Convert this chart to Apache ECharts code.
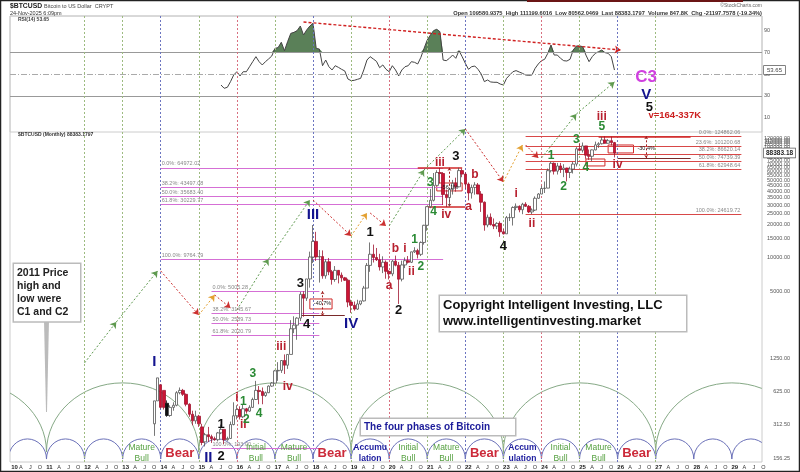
<!DOCTYPE html>
<html>
<head>
<meta charset="utf-8">
<style>html,body{margin:0;padding:0;background:#fff}#chart{width:800px;height:472px}</style>
<script src="https://cdn.jsdelivr.net/npm/echarts@6/dist/echarts.min.js"></script>
</head>
<body>
<div id="chart"></div>
<script>
// 月份轴 2010-02 .. 2029-10
let months = [];
for (let i = 0; i < 237; i++) {
    let n = 2010 * 12 + 1 + i;
    months.push(Math.floor(n / 12) + "-" + String(n % 12 + 1).padStart(2, "0"));
}

// 蜡烛图，从 2013-11 这一格开始
let candleStart = "2013-11";
let priceOpen = [
    320, 515, 720,
    640, 490, 380, 450, 470, 610, 640, 590, 480, 390, 340, 375,
    300, 220, 255, 245, 235, 230, 265, 285, 230, 236, 315, 378,
    430, 370, 437, 416, 450, 530, 640, 625, 575, 610, 700, 745,
    960, 970, 1190, 1080, 1350, 2300, 2480, 2870, 4700, 4340, 6470, 10200,
    14100, 10200, 10300, 6900, 9240, 7500, 6400, 7730, 7000, 6620, 6300, 4000,
    3740, 3460, 3850, 4100, 5350, 8570, 10800, 10100, 9630, 8300, 9150, 7570,
    7190, 9350, 8600, 6440, 8650, 9450, 9140, 11350, 11650, 10780, 13800, 19700,
    29000, 33100, 45100, 58900, 57700, 37300, 35000, 41500, 47100, 43800, 61300, 57000,
    46300, 38500, 43200, 45500, 37700, 31800, 19800, 23300, 20000, 19400, 20500, 17200,
    16500, 23100, 23100, 28500, 29200, 27200, 30500, 29200, 26000, 27000, 34500, 37700,
    42300, 42600, 61200, 71300, 60600, 67500, 62700, 64600, 59000, 63300, 70200, 96400,
    93400, 102400, 84400, 82500, 94200, 104600, 107100, 115700, 108200, 114000, 109580
];
let priceClose = [
    515, 830, 450,
    450, 380, 450, 470, 610, 640, 590, 480, 390, 340, 375, 320,
    217, 255, 245, 235, 230, 265, 285, 230, 236, 315, 378, 430,
    370, 437, 416, 450, 530, 640, 625, 575, 610, 700, 745, 960,
    970, 1190, 1080, 1350, 2300, 2480, 2870, 4700, 4340, 6470, 10200, 14100,
    10200, 10300, 6900, 9240, 7500, 6400, 7730, 7000, 6620, 6300, 4000, 3740,
    3460, 3850, 4100, 5350, 8570, 10800, 10100, 9630, 8300, 9150, 7570, 7190,
    9350, 8600, 6440, 8650, 9450, 9140, 11350, 11650, 10780, 13800, 19700, 29000,
    33100, 45100, 58900, 57700, 37300, 35000, 41500, 47100, 43800, 61300, 57000, 46300,
    38500, 43200, 45500, 37700, 31800, 19800, 23300, 20000, 19400, 20500, 17200, 16500,
    23100, 23100, 28500, 29200, 27200, 30500, 29200, 26000, 27000, 34500, 37700, 42300,
    42600, 61200, 71300, 60600, 67500, 62700, 64600, 59000, 63300, 70200, 96400, 93400,
    102400, 84400, 82500, 94200, 104600, 107100, 115700, 108200, 114000, 109580, 88383
];
let priceLow = [
    249, 515, 440,
    430, 370, 370, 420, 460, 590, 570, 460, 370, 310, 320, 300,
    205, 200, 220, 215, 225, 222, 258, 210, 225, 235, 310, 350,
    350, 360, 395, 410, 445, 525, 480, 480, 560, 605, 690, 740,
    780, 920, 900, 1000, 1350, 2100, 1830, 2700, 2950, 4100, 5400, 9000,
    9400, 6000, 6500, 6500, 7000, 5750, 6100, 5900, 6100, 6200, 3600, 3200,
    3350, 3400, 3750, 4050, 5350, 7500, 9100, 9400, 7700, 7300, 6500, 6400,
    6850, 8400, 3850, 6150, 8100, 8900, 9000, 11100, 9900, 10400, 13200, 17600,
    28100, 32300, 45000, 47000, 30000, 28800, 29300, 37300, 39600, 43300, 53400, 42000,
    33000, 34300, 37200, 37700, 26000, 17600, 18900, 19600, 18200, 18200, 15500, 16300,
    16500, 21500, 19600, 26900, 25800, 24800, 28900, 25400, 24900, 26500, 34100, 37600,
    38500, 42800, 59000, 56500, 56500, 58400, 53500, 49000, 52500, 57700, 66800, 91300,
    89200, 78200, 76600, 74500, 93400, 98200, 105300, 107300, 107300, 103500, 80562
];
let priceHigh = [
    515, 830, 720,
    640, 520, 470, 500, 630, 680, 660, 600, 490, 420, 420, 385,
    320, 265, 300, 255, 245, 270, 315, 285, 245, 335, 500, 470,
    460, 480, 445, 470, 550, 780, 700, 680, 625, 710, 760, 980,
    1150, 1200, 1350, 1360, 2750, 2980, 2920, 4950, 5000, 6470, 11400, 19800,
    17200, 11800, 11700, 9750, 10000, 7800, 8450, 7750, 7400, 6750, 6500, 4200,
    4050, 4200, 4100, 5600, 9000, 13800, 13200, 12300, 10900, 10350, 9500, 7750,
    9600, 10500, 9200, 9450, 10100, 10400, 11400, 12500, 12100, 14100, 19900, 29300,
    41900, 58300, 61800, 64800, 59500, 41300, 42600, 50500, 52900, 64972, 64000, 59000,
    47900, 45800, 48200, 47400, 40000, 32300, 24600, 25200, 22700, 21000, 21400, 18300,
    23900, 25200, 29200, 31000, 29800, 31400, 31800, 30000, 28000, 35900, 38400, 44700,
    48900, 64000, 73800, 72700, 71900, 71900, 70000, 65000, 66500, 73600, 99800, 108300,
    109900, 102500, 95000, 95000, 111900, 110500, 123200, 124862, 117900, 124000, 111199
];
let blackBars = [4];

// RSI，从 2015-08 这一格开始
let rsiStart = "2015-08";
let rsiValues = [
    39.9, 36.9, 37.8, 43, 49.1, 52.1, 48.2, 52.1, 52.1, 56.7, 61.3, 65.9, 61.3, 58.3, 61.3,
    63.8, 66.5, 73.5, 74.2, 79.1, 71.4, 79.7, 87.3, 88.2, 89.8, 94, 85.8, 90.4, 94, 96.5,
    73.5, 72.9, 57.6, 62.8, 56.7, 53.7, 57.6, 56.1, 54.3, 52.8, 45.4, 43.9, 44.2, 45.1, 46,
    53.7, 62.8, 65.9, 63.8, 61.6, 55.8, 58.3, 54.3, 52.1, 57.6, 53.7, 48.2,
    53.7, 56.7, 57.6, 61.3, 60.7, 59.2, 65.3, 73.5, 81.2, 85.8, 89.8, 91, 88.8, 62.8, 62.2,
    64.4, 67.4, 64.4, 71.4, 65.9, 59.8, 54.3, 56.7, 57.3, 54.3, 50, 43, 44.5, 42.7, 42.4,
    42.4, 40.8, 39.9, 46, 49.1, 52.1, 53.1, 51.8, 50.6, 49.1, 48.8, 49.1, 55.2, 59.2, 62.2,
    63.5, 69, 76.6, 67.4, 67.4, 64.4, 62.2, 61.9, 63.5, 72, 75.7, 75.7, 75.1, 67.4, 61.3,
    65.9, 69, 70.5, 72, 69.6, 69, 65.9, 53.65
];
let rsiTicks = [10, 30, 50, 70, 90];
let priceTicks = [156.25, 312.5, 625, 1250, 5000, 10000, 15000, 20000, 25000, 30000, 35000, 40000, 45000, 50000,
    55000, 60000, 65000, 70000, 75000, 80000, 85000, 90000, 95000, 100000, 105000, 110000, 115000, 120000, 125000];

// 竖线
let greenYears = ["2012-01", "2013-01", "2015-01", "2017-01", "2019-01", "2021-01", "2023-01", "2025-01", "2027-01"];
let blueYears = ["2014-01", "2018-01", "2022-01", "2026-01"];
let redYears = ["2016-01", "2020-01", "2024-01"];

// 周期弧，单位：年
let bigCycleYears = [2007, 2011, 2015, 2019, 2023, 2027, 2031];
let smallCycleYears = [2010, 2011, 2012, 2013, 2014, 2015, 2016, 2017, 2018, 2019, 2020, 2021, 2022, 2023, 2024, 2025, 2026, 2027, 2028, 2029, 2030];

// 斐波那契线
let fibA = [["0.0%", 64972.02], ["38.2%", 43497.08], ["50.0%", 35683.40], ["61.8%", 30229.77], ["100.0%", 9764.79]];
let fibB = [["0.0%", 5005.28], ["38.2%", 3145.67], ["50.0%", 2589.73], ["61.8%", 2020.79], ["100.0%", 193.00]];
let fibC = [["0.0%", 124862.06], ["23.6%", 101200.68], ["38.2%", 86620.14], ["50.0%", 74739.39], ["61.8%", 62948.64], ["100.0%", 24619.72]];

// 箭头路径
let greenArrows = [
    [["2012-01", 1133], ["2012-11", 2647]], [["2012-11", 2647], ["2013-12", 7637]],
    [["2016-01", 3400], ["2016-11", 9790]], [["2016-11", 9790], ["2017-12", 33330]],
    [["2020-01", 19450], ["2020-12", 62110]], [["2020-12", 62110], ["2022-01", 145400]],
    [["2024-01", 79700], ["2024-12", 198500]], [["2024-12", 198500], ["2025-12", 385700]]
];
let redArrows = [
    [["2014-01", 7637], ["2015-01", 3060]], [["2015-06", 4636], ["2015-11", 3544]],
    [["2018-01", 33330], ["2019-01", 15790]], [["2019-07", 25440], ["2019-12", 19450]],
    [["2022-01", 145400], ["2023-01", 48400]], [["2023-08", 104300], ["2023-12", 79700]]
];
let orangeArrows = [
    [["2015-01", 3060], ["2015-06", 4636]], [["2019-01", 15790], ["2019-06", 25440]], [["2023-01", 48400], ["2023-07", 104300]]
];
let measureLines = [
    [["2018-04", 5005], ["2018-04", 3000]], [["2021-08", 64972], ["2021-08", 29000]], [["2026-10", 124862], ["2026-10", 79700]]
];
let darkLines = [[["2017-09", 3060], ["2018-11", 3060]], [["2026-01", 79700], ["2027-12", 79700]]];
let redLines = [
    [["2020-10", 64972], ["2021-12", 64972]], [["2021-01", 28800], ["2022-01", 28800]], [["2025-07", 124862], ["2027-12", 124862]]
];
let boxes = [
    [["2017-12", 4268], ["2018-07", 3470]], [["2021-04", 47400], ["2021-12", 40200]],
    [["2025-10", 104300], ["2026-06", 88400]], [["2025-03", 78000], ["2025-09", 67500]]
];
let rsiTrend = [[["2017-10", 97.7], ["2026-02", 72]]];

// 文字标注
let blueWaves = [["2013-11", 1156, "I"], ["2015-04", 158.5, "II"], ["2018-01", 24400, "III"], ["2019-01", 2542, "IV"], ["2026-10", 294500, "V"]];
let blackWaves = [["2026-11", 229600, "5"], ["2015-08", 319, "1"], ["2015-08", 164, "2"], ["2017-09", 5950, "3"], ["2017-11", 2542, "4"],
    ["2019-07", 17150, "1"], ["2020-04", 3400, "2"], ["2021-10", 83100, "3"], ["2023-01", 12830, "4"]];
let redWaves = [["2017-03", 1577, "iii"], ["2017-05", 688, "iv"], ["2016-01", 547, "i"], ["2016-03", 312, "ii"], ["2020-01", 5590, "a"],
    ["2020-03", 12050, "b"], ["2020-06", 12050, "i"], ["2020-08", 7480, "ii"], ["2022-02", 28800, "a"], ["2022-04", 56000, "b"],
    ["2021-05", 71800, "iii"], ["2021-07", 24400, "iv"], ["2023-05", 37750, "i"], ["2023-10", 20300, "ii"], ["2025-08", 186600, "iii"], ["2026-01", 68900, "iv"]];
let greenWaves = [["2016-03", 503, "1"], ["2016-04", 347, "2"], ["2016-06", 900, "3"], ["2016-08", 393, "4"], ["2020-09", 14530, "1"], ["2020-11", 8300, "2"],
    ["2021-02", 47400, "3"], ["2021-03", 26000, "4"], ["2024-04", 83100, "1"], ["2024-08", 43600, "2"], ["2024-12", 115700, "3"], ["2025-03", 64700, "4"], ["2025-08", 151500, "5"]];
let percentTexts = [["2018-04", 3850, "-40.7%"], ["2021-08", 43600, "-56.1%"], ["2026-10", 98000, "-30.4%"]];
let bullTexts = [["2013-07", 174, "Mature\nBull"], ["2016-07", 174, "Initial\nBull"], ["2017-07", 174, "Mature\nBull"], ["2020-07", 174, "Initial\nBull"],
    ["2021-07", 174, "Mature\nBull"], ["2024-07", 174, "Initial\nBull"], ["2025-07", 174, "Mature\nBull"]];
let bearTexts = [["2014-07", 174, "Bear"], ["2018-07", 174, "Bear"], ["2022-07", 174, "Bear"], ["2026-07", 174, "Bear"]];
let accumTexts = [["2019-07", 174, "Accumu\nlation"], ["2023-07", 174, "Accum\nulation"]];

const FONT = '"Liberation Sans", Arial, sans-serif';
const RSI_TOP = 16, RSI_H = 116, PRICE_H = 446, LEFT = 10, PLOT_W = 752;
const HIDDEN = "rgba(0,0,0,0)";

let rsiPoints = rsiValues.map((v, i) => [months[months.indexOf(rsiStart) + i], v]);
// 只保留 70 以上的部分，用来填充
let rsiOver = rsiValues.map((v, i) => {
    let near = rsiValues[i - 1] >= 70 || rsiValues[i + 1] >= 70;
    return [months[months.indexOf(rsiStart) + i], v >= 70 ? v : (near ? 70 : "-")];
});
let candles = priceOpen.map((o, i) => {
    let row = [months[months.indexOf(candleStart) + i], o, priceClose[i], priceLow[i], priceHigh[i]];
    return blackBars.includes(i)
        ? { value: row, itemStyle: { color0: "#111", borderColor0: "#111" } }
        : row;
});

let segs = (list, style) => list.map(s => [{ coord: s[0], lineStyle: style }, { coord: s[1] }]);
let fibLines = (fib, from, to, color, labelPos) => fib.map(f => [{
    coord: [from, f[1]],
    lineStyle: { color: color, width: 1.2, type: "solid" },
    label: {
        show: true, position: labelPos, distance: 1, formatter: f[0] + ": " + f[1].toFixed(2),
        fontSize: 5.5, color: "#888", fontFamily: FONT
    }
}, { coord: [to, f[1]] }]);

// 空的折线系列，只挂标注
let marks = (name, extra) => Object.assign({
    type: "line", name: name, xAxisIndex: 1, yAxisIndex: 1, data: [], silent: true, z: 3
}, extra);
let markLineOf = (data, symbol, size) => ({ silent: true, symbol: symbol || "none", symbolSize: size || 6, animation: false, data: data, label: { show: false } });

let textSeries = (list, color, size, weight) => ({
    type: "scatter", xAxisIndex: 1, yAxisIndex: 1, silent: true, z: 6, symbolSize: 1,
    itemStyle: { color: HIDDEN, opacity: 1 },
    data: list.map(t => ({ value: [t[0], t[1]], name: t[2] })),
    label: {
        show: true, position: "inside", formatter: "{b}", color: color, fontSize: size, opacity: 1,
        fontWeight: weight || "bold", fontFamily: FONT, lineHeight: size + 2
    }
});

// 周期弧：椭圆的上半部分，端点走坐标轴
const K = 0.5523;
let arcSeries = (years, base, peak, color) => ({
    type: "custom", xAxisIndex: 1, yAxisIndex: 1, silent: true, clip: true, z: 4,
    encode: { x: 0, y: 2 },
    data: years.slice(0, -1).map((y, i) => [(y - 2010) * 12 - 1, (years[i + 1] - 2010) * 12 - 1, base, peak]),
    renderItem: (params, api) => {
        let a = api.coord([api.value(0), api.value(2)]);
        let b = api.coord([api.value(1), api.value(2)]);
        let top = api.coord([api.value(0), api.value(3)]);
        let rx = (b[0] - a[0]) / 2, ry = a[1] - top[1], cx = a[0] + rx;
        let style = { fill: "none", stroke: color, lineWidth: 1 };
        return {
            type: "group",
            children: [
                { type: "bezierCurve", shape: { x1: a[0], y1: a[1], cpx1: a[0], cpy1: a[1] - K * ry, cpx2: cx - K * rx, cpy2: top[1], x2: cx, y2: top[1] }, style: style },
                { type: "bezierCurve", shape: { x1: cx, y1: top[1], cpx1: cx + K * rx, cpy1: top[1], cpx2: b[0], cpy2: a[1] - K * ry, x2: b[0], y2: b[1] }, style: style }
            ]
        };
    }
});

let headerText = (text, x, y, font, fill, align) => ({
    type: "text", silent: true, z: 20,
    style: { text: text, x: x, y: y, font: font + " " + FONT, fill: fill, align: align || "left", verticalAlign: "middle" }
});
let boxText = (lines, x, y, w, lh, font, fill) => ({
    type: "text", silent: true, z: 20,
    style: {
        text: lines.join("\n"), x: x, y: y, width: w, height: lh * lines.length, font: font + " " + FONT, fill: fill,
        backgroundColor: "#fff", borderColor: "#bbb", borderWidth: 1.5, padding: [2, 3], lineHeight: lh
    }
});

let chart = echarts.init(document.getElementById("chart"), null, { renderer: "canvas" });
chart.setOption({
    animation: false,
    backgroundColor: "#fff",
    grid: [
        { left: LEFT, top: RSI_TOP, width: PLOT_W, height: RSI_H, show: true, borderColor: "#ccc", borderWidth: 1 },
        { left: LEFT, top: RSI_TOP, width: PLOT_W, height: PRICE_H, show: true, borderColor: "#ccc", borderWidth: 1 }
    ],
    xAxis: [
        { type: "category", gridIndex: 0, data: months, show: false },
        {
            type: "category", gridIndex: 1, data: months,
            axisLine: { show: false }, axisTick: { show: false }, splitLine: { show: false },
            axisLabel: {
                margin: 2, interval: (i, v) => (+v.slice(5) - 1) % 3 === 0 || i === 0,
                padding: [0, 0, 0, 6], color: "#333", fontFamily: FONT, fontSize: 5.5,
                formatter: (v, i) => {
                    let m = +v.slice(5);
                    if (m === 1 || i === 0) return "{y|" + v.slice(2, 4) + "}";
                    return { 4: "A", 7: "J", 10: "O" }[m] || "";
                },
                rich: { y: { fontWeight: "bold", fontSize: 6, color: "#222", fontFamily: FONT } }
            }
        }
    ],
    yAxis: [
        {
            type: "value", gridIndex: 0, position: "right", min: -3.2, max: 103.2,
            axisLine: { show: false }, axisTick: { show: false }, splitLine: { show: false },
            axisLabel: { customValues: rsiTicks, margin: 2, fontSize: 5.5, color: "#555", fontFamily: FONT }
        },
        {
            type: "log", logBase: 2, gridIndex: 1, position: "right", min: 144.8, max: 1517000,
            axisLine: { show: false }, axisTick: { show: false }, splitLine: { show: false },
            axisLabel: {
                customValues: priceTicks, margin: 28, align: "right", fontSize: 5.5, color: "#555", fontFamily: FONT,
                formatter: v => (+v).toFixed(2)
            }
        }
    ],
    series: [
        {
            type: "line", xAxisIndex: 0, yAxisIndex: 0, data: rsiOver, symbol: "none", silent: true,
            lineStyle: { width: 0 }, areaStyle: { origin: 70, color: "#5a8058", opacity: 1 }, z: 2
        },
        {
            type: "line", xAxisIndex: 0, yAxisIndex: 0, data: rsiPoints, symbol: "none", silent: true,
            lineStyle: { color: "#444", width: 1 }, z: 3,
            markLine: markLineOf([
                { yAxis: 70, lineStyle: { color: "#999", width: 1.2, type: "solid" } },
                { yAxis: 30, lineStyle: { color: "#999", width: 1.2, type: "solid" } },
                { yAxis: 50, lineStyle: { color: "#aaa", width: 1, type: [6, 2, 1, 2] } },
                {
                    yAxis: 53.65, lineStyle: { color: HIDDEN },
                    label: {
                        show: true, position: "end", distance: 2, formatter: "53.65", fontSize: 6, color: "#444", fontFamily: FONT,
                        backgroundColor: "#fff", borderColor: "#555", borderWidth: 0.7, padding: [1, 3]
                    }
                }
            ])
        },
        marks("trend", {
            xAxisIndex: 0, yAxisIndex: 0, z: 7,
            markLine: markLineOf(segs(rsiTrend, { color: "#d02020", width: 1.4, type: [3, 2] }), ["none", "arrow"])
        }),
        marks("cycleLines", {
            z: 1,
            markLine: markLineOf([]
                .concat(greenYears.map(c => ({ xAxis: c, lineStyle: { color: "#9dbb80", width: 1, type: [2, 2] } })))
                .concat(blueYears.map(c => ({ xAxis: c, lineStyle: { color: "#6c75c0", width: 1, type: [2, 2] } })))
                .concat(redYears.map(c => ({ xAxis: c, lineStyle: { color: "#d87080", width: 1, type: [2, 2] } }))))
        }),
        arcSeries(bigCycleYears, 178, 748, "#86a986"),
        arcSeries(smallCycleYears, 154, 233.7, "#6a70b8"),
        marks("fibLines", {
            markLine: markLineOf([]
                .concat(fibLines(fibA, "2014-01", "2021-06", "#d56fd5", "insideStartTop"))
                .concat(fibLines(fibB, "2015-05", "2018-03", "#d56fd5", "insideStartTop"))
                .concat(fibLines(fibC, "2023-08", "2029-04", "#d84848", "insideEndTop")))
        }),
        {
            type: "candlestick", xAxisIndex: 1, yAxisIndex: 1, data: candles, barWidth: 3, silent: true, z: 5,
            encode: { x: 0, y: [1, 2, 3, 4] },
            itemStyle: { color: "#fff", color0: "#cc1535", borderColor: "#555", borderColor0: "#a01530", borderWidth: 0.8 }
        },
        marks("boxes", {
            z: 6,
            markArea: {
                silent: true, animation: false,
                itemStyle: { color: "rgba(255,255,255,0.55)", borderColor: "#d02828", borderWidth: 1 },
                data: boxes.map(b => [{ coord: b[0] }, { coord: b[1] }])
            }
        }),
        marks("thinRed", {
            markLine: markLineOf(segs(redLines, { color: "#d02828", width: 1.6, type: "solid" })
                .concat(segs(darkLines, { color: "#7a2a2a", width: 1.2, type: "solid" })))
        }),
        marks("measure", {
            markLine: markLineOf(segs(measureLines, { color: "#a02020", width: 1, type: [2, 2] }), ["arrow", "arrow"], 3)
        }),
        marks("arrows", {
            z: 7,
            markLine: markLineOf(segs(greenArrows, { color: "#5f9a50", width: 1, type: [2, 2] })
                .concat(segs(redArrows, { color: "#cc3030", width: 1, type: [2, 2] }))
                .concat(segs(orangeArrows, { color: "#e3a030", width: 1, type: [2, 2] })), ["none", "arrow"])
        }),
        marks("flag", {
            markLine: markLineOf([{
                yAxis: 88383.18, lineStyle: { color: HIDDEN },
                label: {
                    show: true, position: "end", distance: 2, formatter: "88383.18", fontSize: 6.5, fontWeight: "bold",
                    color: "#222", fontFamily: FONT, backgroundColor: "#fff", borderColor: "#555", borderWidth: 0.7, padding: [1, 2]
                }
            }])
        }),
        textSeries(blueWaves, "#14148f", 15),
        textSeries(blackWaves, "#111", 13),
        textSeries(redWaves, "#b8202f", 12),
        textSeries(greenWaves, "#2a8a34", 12),
        textSeries(percentTexts, "#222", 5.5, "normal"),
        textSeries(bullTexts, "#55a040", 8.5, "normal"),
        textSeries(bearTexts, "#cc2a3a", 13),
        textSeries(accumTexts, "#2020a0", 8.5),
        textSeries([["2026-10", 428000, "C3"]], "#d040e0", 17),
        textSeries([["2027-07", 194500, "v=164-337K"]], "#cc2020", 9.5)
    ],
    graphic: [
        { type: "rect", silent: true, z: 30, shape: { x: 0.5, y: 0.5, width: 799, height: 471 }, style: { fill: "none", stroke: "#222", lineWidth: 1.5 } },
        { type: "rect", silent: true, z: 30, shape: { x: 527, y: 0, width: 216, height: 2 }, style: { fill: "#6b1515" } },
        headerText("$BTCUSD", 10, 6, "bold 6.8px", "#222"),
        headerText("Bitcoin to US Dollar  CRYPT", 44, 6, "5.5px", "#444"),
        headerText("24-Nov-2025 6:09pm", 10, 13, "5.5px", "#333"),
        headerText("RSI(14) 53.65", 18, 20, "bold 5px", "#444"),
        headerText("$BTCUSD (Monthly) 88383.1797", 18, 135, "bold 5px", "#333"),
        headerText("©StockCharts.com", 762, 6, "5px", "#666", "right"),
        headerText("Open 109580.9375  High 111199.6016  Low 80562.0469  Last 88383.1797  Volume 847.8K  Chg -21197.7578 (-19.34%)", 762, 13, "bold 5.7px", "#333", "right"),
        boxText(["2011 Price", "high and", "low were", "C1 and C2"], 14, 264, 60, 13.3, "bold 10.5px", "#222"),
        { type: "polygon", silent: true, z: 19, shape: { points: [[44, 320], [49, 320], [47, 412], [46, 412]] }, style: { fill: "#bbb" } },
        boxText(["Copyright Intelligent Investing, LLC", "www.intelligentinvesting.market"], 440, 296, 240, 15.5, "bold 13px", "#111"),
        boxText(["The four phases of Bitcoin"], 361, 419, 148, 12, "bold 10px", "#1c1c9a")
    ]
});
</script>
</body>
</html>
